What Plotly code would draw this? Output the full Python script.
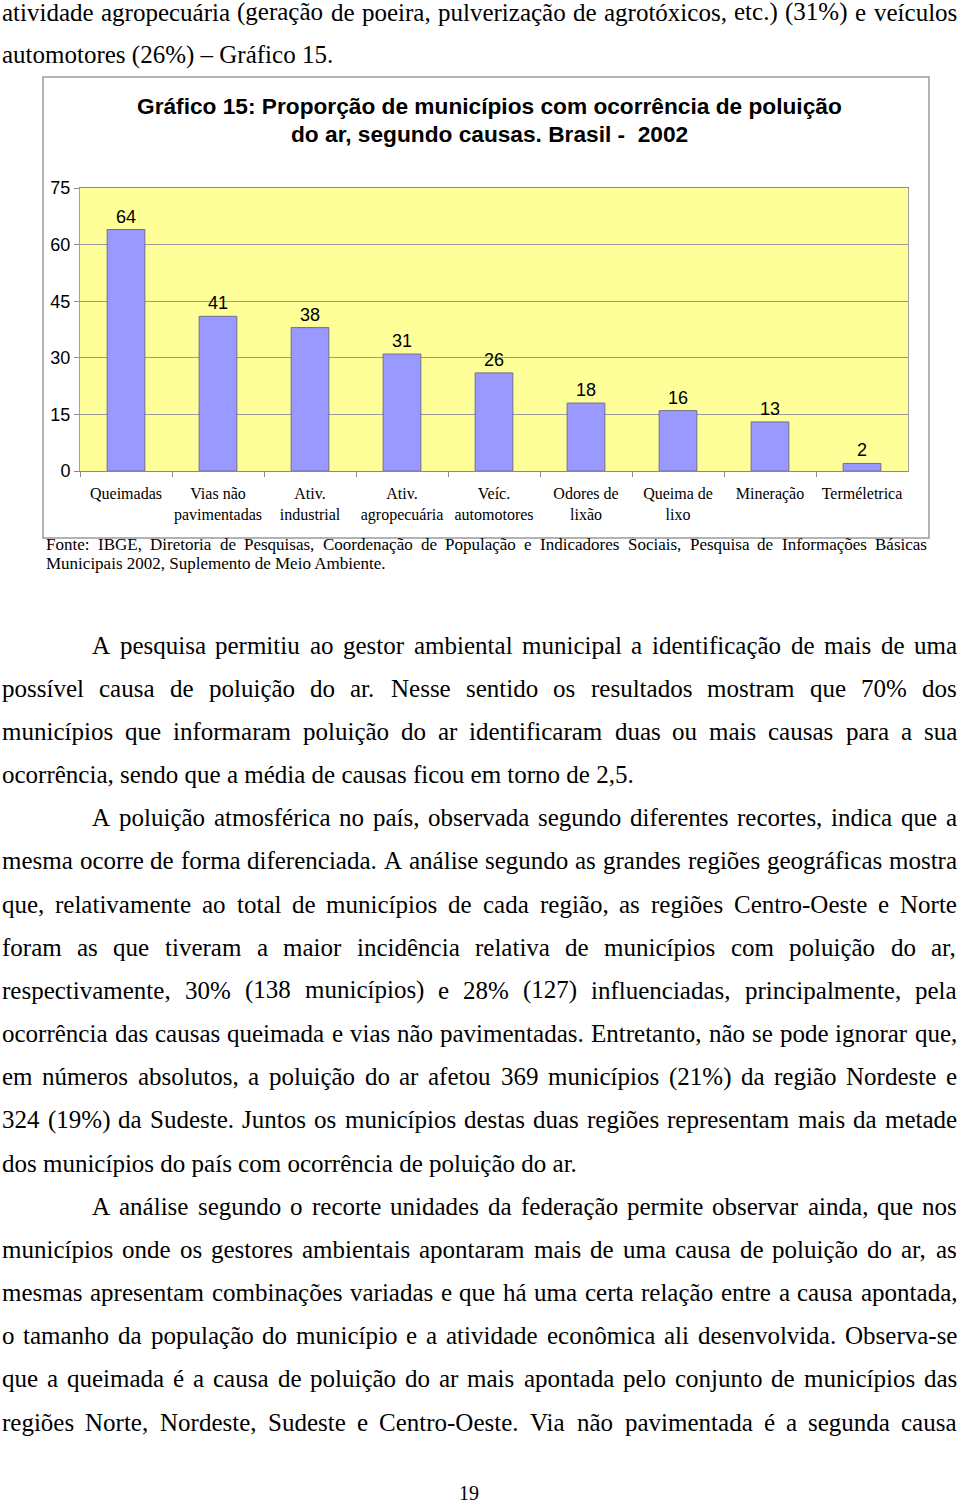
import plotly.graph_objects as go

W, H = 960, 1501

# dados do gráfico
categorias = [
    "Queimadas",
    "Vias não<br>pavimentadas",
    "Ativ.<br>industrial",
    "Ativ.<br>agropecuária",
    "Veíc.<br>automotores",
    "Odores de<br>lixão",
    "Queima de<br>lixo",
    "Mineração",
    "Terméletrica",
]
proporcoes = [64, 41, 38, 31, 26, 18, 16, 13, 2]
marcas_y = [0, 15, 30, 45, 60, 75]

titulo = [
    "Gráfico 15: Proporção de municípios com ocorrência de poluição",
    "do ar, segundo causas. Brasil - &nbsp;2002",
]

fonte = [
    ("Fonte: IBGE, Diretoria de Pesquisas, Coordenação de População e Indicadores Sociais, Pesquisa de Informações Básicas", "j"),
    ("Municipais 2002, Suplemento de Meio Ambiente.", "f"),
]

# texto da página: "j" = justificada, "f" = fim de parágrafo, "i" = recuo
texto_topo = [
    ("atividade agropecuária (geração de poeira, pulverização de agrotóxicos, etc.) (31%) e veículos", "j"),
    ("automotores (26%) – Gráfico 15.", "f"),
]
texto_corpo = [
    ("A pesquisa permitiu ao gestor ambiental municipal a identificação de mais de uma", "ij"),
    ("possível causa de poluição do ar. Nesse sentido os resultados mostram que 70% dos", "j"),
    ("municípios que informaram poluição do ar identificaram duas ou mais causas para a sua", "j"),
    ("ocorrência, sendo que a média de causas ficou em torno de 2,5.", "f"),
    ("A poluição atmosférica no país, observada segundo diferentes recortes, indica que a", "ij"),
    ("mesma ocorre de forma diferenciada. A análise segundo as grandes regiões geográficas mostra", "j"),
    ("que, relativamente ao total de municípios de cada região, as regiões Centro-Oeste e Norte", "j"),
    ("foram as que tiveram a maior incidência relativa de municípios com poluição do ar,", "j"),
    ("respectivamente, 30% (138 municípios) e 28% (127) influenciadas, principalmente, pela", "j"),
    ("ocorrência das causas queimada e vias não pavimentadas. Entretanto, não se pode ignorar que,", "j"),
    ("em números absolutos, a poluição do ar afetou 369 municípios (21%) da região Nordeste e", "j"),
    ("324 (19%) da Sudeste. Juntos os municípios destas duas regiões representam mais da metade", "j"),
    ("dos municípios do país com ocorrência de poluição do ar.", "f"),
    ("A análise segundo o recorte unidades da federação permite observar ainda, que nos", "ij"),
    ("municípios onde os gestores ambientais apontaram mais de uma causa de poluição do ar, as", "j"),
    ("mesmas apresentam combinações variadas e que há uma certa relação entre a causa apontada,", "j"),
    ("o tamanho da população do município e a atividade econômica ali desenvolvida. Observa-se", "j"),
    ("que a queimada é a causa de poluição do ar mais apontada pelo conjunto de municípios das", "j"),
    ("regiões Norte, Nordeste, Sudeste e Centro-Oeste. Via não pavimentada é a segunda causa", "j"),
]
pagina = "19"

SERIF = "Liberation Serif, Times New Roman, serif"
SANS = "Liberation Sans, Arial, sans-serif"

# larguras aproximadas da Times (por 1000 em) para justificar as linhas
LARG = {" ": 250, "%": 833, "(": 333, ")": 333, ",": 250, "-": 333, ".": 250, ":": 278, "–": 500}
LARG.update({d: 500 for d in "0123456789"})
LARG.update(dict(zip("ABCDEFGHIJKLMNOPQRSTUVWXYZ",
                     [722, 667, 667, 722, 611, 556, 722, 722, 333, 389, 722, 611, 889,
                      722, 722, 556, 722, 667, 556, 611, 722, 722, 944, 722, 722, 611])))
LARG.update(dict(zip("abcdefghijklmnopqrstuvwxyz",
                     [444, 500, 444, 500, 444, 333, 500, 500, 278, 278, 500, 278, 778,
                      500, 500, 500, 500, 333, 389, 278, 500, 500, 722, 500, 500, 444])))
ACENTOS = {"á": "a", "à": "a", "â": "a", "ã": "a", "é": "e", "ê": "e", "í": "i",
           "ó": "o", "ô": "o", "õ": "o", "ú": "u", "ç": "c", "Á": "A", "É": "E"}


def largura(palavra, tam):
    return sum(LARG.get(ACENTOS.get(c, c), 500) for c in palavra) * tam / 1000


def px(x):
    return x / W


def py(y):
    return 1 - y / H


fig = go.Figure()

fig.add_trace(
    go.Bar(
        x=categorias,
        y=proporcoes,
        marker=dict(color="#9999FF", line=dict(color="#6f6f8f", width=1)),
        text=proporcoes,
        textposition="outside",
        textfont=dict(family=SANS, size=18, color="black"),
        cliponaxis=False,
        hoverinfo="skip",
    )
)


def nota(x, y, texto, tam, familia=SERIF, xanchor="left"):
    fig.add_annotation(
        xref="paper", yref="paper",
        x=px(x), y=py(y), text=texto, xanchor=xanchor, yanchor="middle",
        showarrow=False, borderpad=0, borderwidth=0,
        font=dict(family=familia, size=tam, color="black"),
    )


def escreve_linha(texto, y, esq, dir_, tam, justifica):
    if not justifica:
        nota(esq, y, texto, tam)
        return
    palavras = texto.split(" ")
    larguras = [largura(p, tam) for p in palavras]
    vao = (dir_ - esq - sum(larguras)) / (len(palavras) - 1)
    vao = max(vao, 0.2 * tam)
    x = esq
    for p, lw in zip(palavras, larguras):
        nota(x, y, p, tam)
        x += lw + vao


def escreve_bloco(linhas, y0, passo, esq, dir_, tam, recuo=90):
    for i, (txt, estilo) in enumerate(linhas):
        x0 = esq + (recuo if "i" in estilo else 0)
        escreve_linha(txt, y0 + i * passo, x0, dir_, tam, "j" in estilo)


escreve_bloco(texto_topo, 12, 43.17, 2, 957, 25)
escreve_bloco(texto_corpo, 645, 43.17, 2, 957, 25)
escreve_bloco(fonte, 544, 19, 46, 927, 17)

nota(469, 1493, pagina, 20, xanchor="center")

# título do gráfico, uma anotação por linha
for i, linha in enumerate(titulo):
    nota(490, 106 + i * 27.5, "<b>" + linha + "</b>", 22.7, SANS, "center")

# moldura do gráfico
fig.add_shape(
    type="rect", xref="paper", yref="paper",
    x0=px(43), x1=px(929), y0=py(538), y1=py(77),
    line=dict(color="#9a9a9a", width=1.5), layer="below",
)

fig.update_layout(
    width=W,
    height=H,
    margin=dict(l=0, r=0, t=0, b=0),
    paper_bgcolor="white",
    plot_bgcolor="#FFFF99",
    bargap=0.59,
    showlegend=False,
    xaxis=dict(
        domain=[px(80), px(908)],
        type="category",
        tickson="boundaries",
        ticks="outside",
        ticklen=5,
        tickcolor="#8a8a8a",
        tickangle=0,
        ticklabelstandoff=8,
        automargin=False,
        showline=True,
        linecolor="#8a8a8a",
        mirror=True,
        showgrid=False,
        tickfont=dict(family=SERIF, size=16, color="black"),
    ),
    yaxis=dict(
        domain=[py(471), py(188)],
        range=[0, 75],
        tickvals=marcas_y,
        ticks="outside",
        ticklen=5,
        tickcolor="#8a8a8a",
        automargin=False,
        showline=True,
        linecolor="#a0a0a0",
        mirror=True,
        showgrid=True,
        gridcolor="#9a9a9a",
        gridwidth=1,
        zeroline=False,
        tickfont=dict(family=SANS, size=18, color="black"),
    ),
)

# a página ocupa a janela inteira, sem a margem padrão do navegador
fig.write_html(
    "out.html",
    config={"displayModeBar": False},
    post_script="document.body.style.margin='0';document.body.style.overflow='hidden';",
)
